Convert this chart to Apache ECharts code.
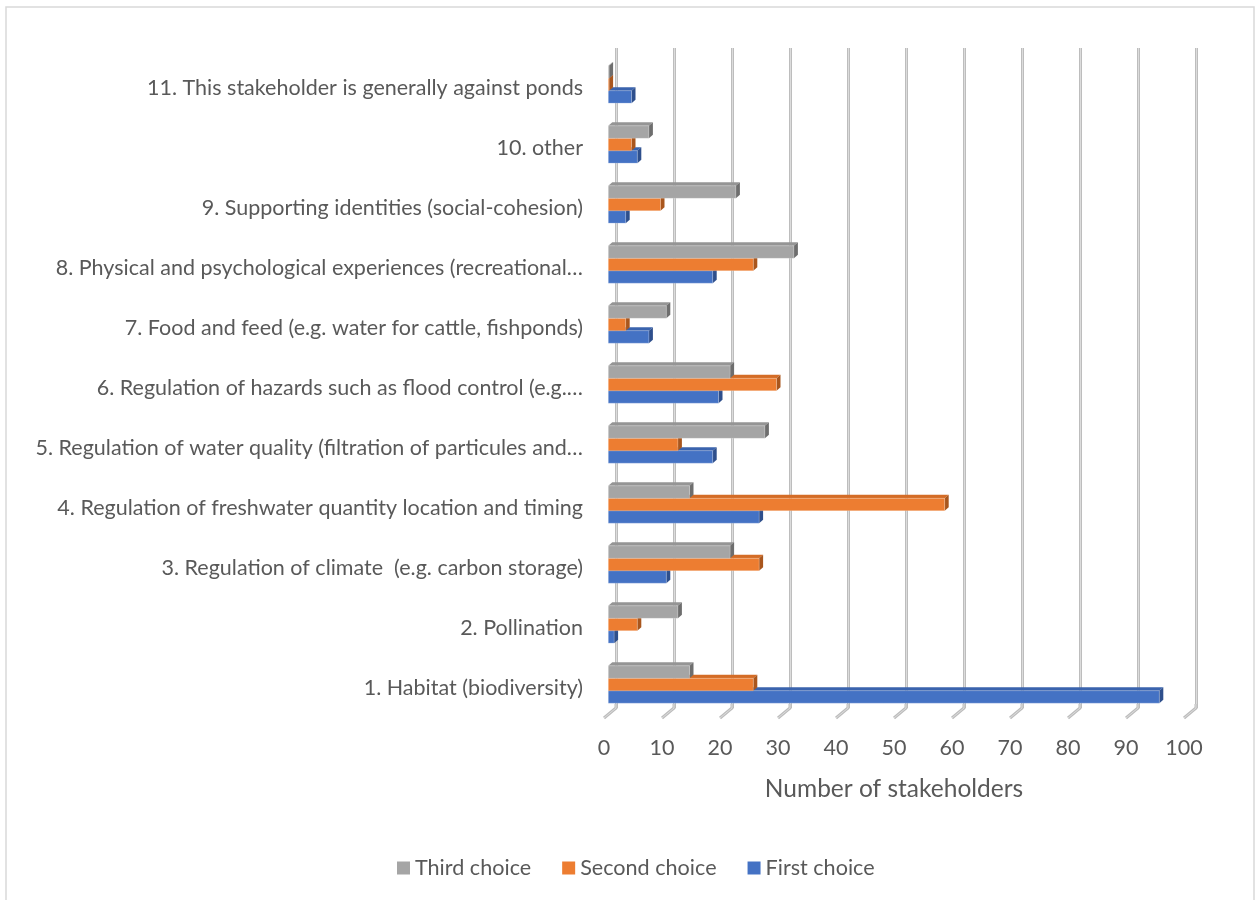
<!DOCTYPE html>
<html>
<head>
<meta charset="utf-8">
<script src="https://cdn.jsdelivr.net/npm/echarts@6/dist/echarts.min.js"></script>
<style>
  html, body { margin: 0; padding: 0; background: #ffffff; }
  #chart { width: 1259px; height: 900px; }
</style>
</head>
<body>
<div id="chart"></div>
<script>
// Ecosystem services ranked by stakeholders (bottom to top on the category axis)
const categories = [
  '1. Habitat (biodiversity)',
  '2. Pollination',
  '3. Regulation of climate  (e.g. carbon storage)',
  '4. Regulation of freshwater quantity location and timing',
  '5. Regulation of water quality (filtration of particules and…',
  '6. Regulation of hazards such as flood control (e.g.…',
  '7. Food and feed (e.g. water for cattle, fishponds)',
  '8. Physical and psychological experiences (recreational…',
  '9. Supporting identities (social-cohesion)',
  '10. other',
  '11. This stakeholder is generally against ponds'
];
const firstChoice  = [95, 1, 10, 26, 18, 19, 7, 18, 3, 5, 4];
const secondChoice = [25, 5, 26, 58, 12, 29, 3, 25, 9, 4, 0];
const thirdChoice  = [14, 12, 21, 14, 27, 21, 10, 32, 22, 7, 0];
const xTicks = [0, 10, 20, 30, 40, 50, 60, 70, 80, 90, 100];

const FONT = 'Lato, "Open Sans", sans-serif';
const TEXT = '#595959';
const PLOT_W = 580, PLOT_H = 660;

// [front colour, top face, side face]
const palette = {
  first:  ['#4472C4', '#3A63AD', '#2E4F8C'],
  second: ['#ED7D31', '#D46C26', '#A9561D'],
  third:  ['#A5A5A5', '#959595', '#6E6E6E']
};

// slot 0 = top bar in a group, 2 = bottom bar
function barRenderer(shades, slot) {
  return function (params, api) {
    const cat = api.value(0);
    const val = api.value(1);
    const band = api.size([0, 1])[1];
    const h = band * 0.207;
    const cy = api.coord([0, cat])[1];
    const x0 = api.coord([0, cat])[0];
    const x1 = Math.max(api.coord([val, cat])[0], x0 + 0.8);
    const yT = cy - 1.5 * h + slot * h;
    const yB = yT + h;
    const dx = 4, dy = 3.5;
    return {
      type: 'group',
      children: [
        { type: 'polygon', shape: { points: [[x0, yT], [x0 + dx, yT - dy], [x1 + dx, yT - dy], [x1, yT]] },
          style: { fill: shades[1] } },
        { type: 'polygon', shape: { points: [[x1, yT], [x1 + dx, yT - dy], [x1 + dx, yB - dy], [x1, yB]] },
          style: { fill: shades[2] } },
        { type: 'rect', shape: { x: x0, y: yT, width: x1 - x0, height: h },
          style: { fill: shades[0], stroke: 'rgba(255,255,255,0.35)', lineWidth: 0.6 } }
      ]
    };
  };
}

function catData(values) {
  return values.map((v, i) => [i, v]);
}

const chart = echarts.init(document.getElementById('chart'), null, { renderer: 'canvas' });

chart.setOption({
  backgroundColor: '#ffffff',
  animation: false,
  textStyle: { fontFamily: FONT },
  graphic: [{
    type: 'rect', silent: true,
    shape: { x: 6, y: 7, width: 1248, height: 930 },
    style: { fill: 'none', stroke: '#d9d9d9', lineWidth: 1.5 }
  }],
  legend: {
    data: ['Third choice', 'Second choice', 'First choice'],
    left: 392, top: 852,
    icon: 'rect', itemWidth: 13, itemHeight: 13, itemGap: 31,
    textStyle: { fontFamily: FONT, fontSize: 21.6, color: TEXT }
  },
  grid: [
    // front plane: axis labels and floor edge
    { left: 604, top: 58, width: PLOT_W, height: PLOT_H },
    // bar plane
    { left: 608.3, top: 54.5, width: PLOT_W, height: PLOT_H },
    // back wall: gridlines
    { left: 616, top: 48, width: PLOT_W, height: PLOT_H }
  ],
  xAxis: [
    {
      gridIndex: 0, type: 'value', min: 0, max: 100, interval: 10,
      axisLine: { show: false }, axisTick: { show: false }, splitLine: { show: false },
      axisLabel: { fontFamily: FONT, fontSize: 21.5, color: TEXT, margin: 19 },
      name: 'Number of stakeholders', nameLocation: 'middle', nameGap: 59,
      nameTextStyle: { fontFamily: FONT, fontSize: 24.5, color: TEXT }
    },
    {
      gridIndex: 1, type: 'value', min: 0, max: 100, interval: 10, show: false
    },
    {
      gridIndex: 2, type: 'value', min: 0, max: 100, interval: 10,
      axisLine: { show: false }, axisTick: { show: false }, axisLabel: { show: false },
      splitLine: { show: true, lineStyle: { color: '#bdbdbd', width: 3 } }
    },
    {
      gridIndex: 2, type: 'value', min: 0, max: 100, interval: 10,
      axisLine: { show: false }, axisTick: { show: false }, axisLabel: { show: false },
      splitLine: { show: true, lineStyle: { color: '#dcdcdc', width: 1 } }
    }
  ],
  yAxis: [
    {
      gridIndex: 0, type: 'category', data: categories,
      axisLine: { show: false }, axisTick: { show: false },
      axisLabel: { fontFamily: FONT, fontSize: 21.5, color: TEXT, margin: 21, interval: 0 }
    },
    { gridIndex: 1, type: 'category', data: categories, show: false },
    { gridIndex: 2, type: 'category', data: categories, show: false }
  ],
  series: [
    {
      // floor lines running from the front edge back to the wall
      type: 'custom', xAxisIndex: 0, yAxisIndex: 0, silent: true, z: 1,
      data: xTicks.map(v => [v]),
      encode: { x: 0 },
      renderItem: function (params, api) {
        const x = api.coord([api.value(0), 0])[0];
        const yb = params.coordSys.y + params.coordSys.height;
        const pts = [[x, yb], [x + 12, yb - 10], [x + 12, yb - 14]];
        return {
          type: 'group',
          children: [
            { type: 'polyline', shape: { points: pts }, style: { stroke: '#bdbdbd', lineWidth: 3, fill: null } },
            { type: 'polyline', shape: { points: pts }, style: { stroke: '#dcdcdc', lineWidth: 1, fill: null } }
          ]
        };
      }
    },
    {
      name: 'First choice', type: 'custom', xAxisIndex: 1, yAxisIndex: 1, z: 3,
      itemStyle: { color: palette.first[0] },
      data: catData(firstChoice), encode: { y: 0, x: 1 },
      renderItem: barRenderer(palette.first, 2)
    },
    {
      name: 'Second choice', type: 'custom', xAxisIndex: 1, yAxisIndex: 1, z: 4,
      itemStyle: { color: palette.second[0] },
      data: catData(secondChoice), encode: { y: 0, x: 1 },
      renderItem: barRenderer(palette.second, 1)
    },
    {
      name: 'Third choice', type: 'custom', xAxisIndex: 1, yAxisIndex: 1, z: 5,
      itemStyle: { color: palette.third[0] },
      data: catData(thirdChoice), encode: { y: 0, x: 1 },
      renderItem: barRenderer(palette.third, 0)
    }
  ]
});
</script>
</body>
</html>
